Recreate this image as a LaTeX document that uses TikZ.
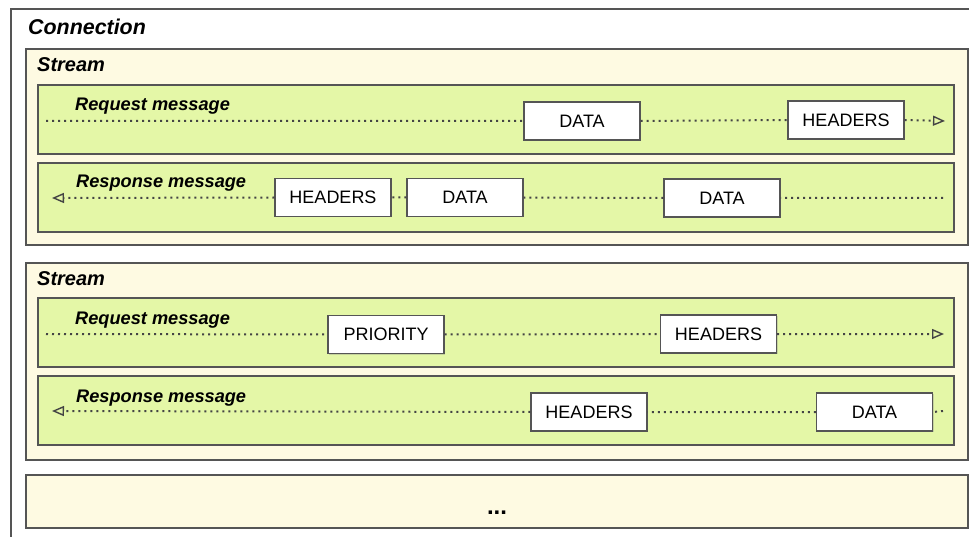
\documentclass[tikz,border=0pt]{standalone}
\usepackage{fontspec}
\setmainfont{Liberation Sans}
\usetikzlibrary{arrows.meta,shadows}
\definecolor{streamfill}{HTML}{FEFAE2}
\definecolor{msgfill}{HTML}{E4F7A7}
\definecolor{edgegray}{HTML}{555555}
\definecolor{dotgray}{HTML}{444444}

\begin{document}
\begin{tikzpicture}[x=1pt,y=-1pt,
    >={Triangle[open,length=12pt,width=10pt,line width=1.4pt]},
    boxframe/.style={draw=edgegray, line width=1.5pt, inner sep=0pt, outer sep=0pt, anchor=north west,
        drop shadow={shadow xshift=1pt, shadow yshift=-1pt, opacity=0.3}},
    streambox/.style={boxframe, fill=streamfill, minimum width=942pt},
    msgbox/.style={boxframe, fill=msgfill, minimum width=916pt, minimum height=69pt},
    frametitle/.style={anchor=base west, inner sep=0pt, font=\fontsize{20}{23}\selectfont\bfseries\itshape},
    msgtitle/.style={anchor=base west, inner sep=0pt, font=\fontsize{18.2}{21}\selectfont\bfseries\itshape},
    framebox/.style={draw=edgegray, fill=white, line width=1.3pt, minimum width=116pt, minimum height=38pt,
        inner sep=0pt, font=\fontsize{18}{21}\selectfont,
        drop shadow={shadow xshift=1pt, shadow yshift=-1pt, opacity=0.3}},
    msgline/.style={draw=dotgray, line width=2pt, dash pattern=on 2pt off 4pt}]
    \useasboundingbox (0,0) rectangle (969,537);

    % connection
    \draw[draw=edgegray, line width=1.5pt] (11,537) |- (969,9);
    \node[frametitle, font=\fontsize{21.4}{24}\selectfont\bfseries\itshape] (conn) at (28,35) {Connection};

    % first stream
    \node[streambox, minimum height=196pt] (st1) at (26,49) {};
    \node[frametitle] (st1t) at (37,72) {Stream};
    \node[msgbox] (rq1) at (38,85) {};
    \node[msgtitle] (rq1t) at (75,111) {Request message};
    \node[msgbox] (rs1) at (38,163) {};
    \node[msgtitle] (rs1t) at (76,188) {Response message};

    \node[framebox] (rq1data) at (582,121) {DATA};
    \node[framebox] (rq1hdr) at (846,120) {HEADERS};
    \coordinate (rq1a) at (46,121);
    \coordinate (rq1b) at (945,121);
    \draw[msgline,->] (rq1a) -- (rq1data.west) (rq1data.east) -- (rq1hdr.west) (rq1hdr.east) -- (rq1b);

    \node[framebox] (rs1hdr) at (333,197.5) {HEADERS};
    \node[framebox] (rs1data) at (465,197.5) {DATA};
    \node[framebox] (rs1data2) at (722,198) {DATA};
    \coordinate (rs1a) at (52,198);
    \coordinate (rs1b) at (943,198);
    \draw[msgline,->] (rs1b) -- (rs1data2.east) (rs1data2.west) -- (rs1data.east)
        (rs1data.west) -- (rs1hdr.east) (rs1hdr.west) -- (rs1a);

    % second stream
    \node[streambox, minimum height=197pt] (st2) at (26,263) {};
    \node[frametitle] (st2t) at (37,286) {Stream};
    \node[msgbox] (rq2) at (38,298) {};
    \node[msgtitle] (rq2t) at (75,324) {Request message};
    \node[msgbox] (rs2) at (38,376) {};
    \node[msgtitle] (rs2t) at (76,402) {Response message};

    \node[framebox] (rq2prio) at (386,334.5) {PRIORITY};
    \node[framebox] (rq2hdr) at (718.5,334) {HEADERS};
    \coordinate (rq2a) at (46,334);
    \coordinate (rq2b) at (944,334);
    \draw[msgline,->] (rq2a) -- (rq2prio.west) (rq2prio.east) -- (rq2hdr.west) (rq2hdr.east) -- (rq2b);

    \node[framebox] (rs2hdr) at (589,412) {HEADERS};
    \node[framebox] (rs2data) at (874.5,412) {DATA};
    \coordinate (rs2a) at (52,411);
    \coordinate (rs2b) at (943,411);
    \draw[msgline,->] (rs2b) -- (rs2data.east) (rs2data.west) -- (rs2hdr.east) (rs2hdr.west) -- (rs2a);

    % more streams
    \node[streambox, minimum height=53pt] (st3) at (26,475) {};
    \node[anchor=base, inner sep=0pt, font=\fontsize{24}{26}\selectfont\bfseries] (more) at (497,514) {...};
\end{tikzpicture}
\end{document}
